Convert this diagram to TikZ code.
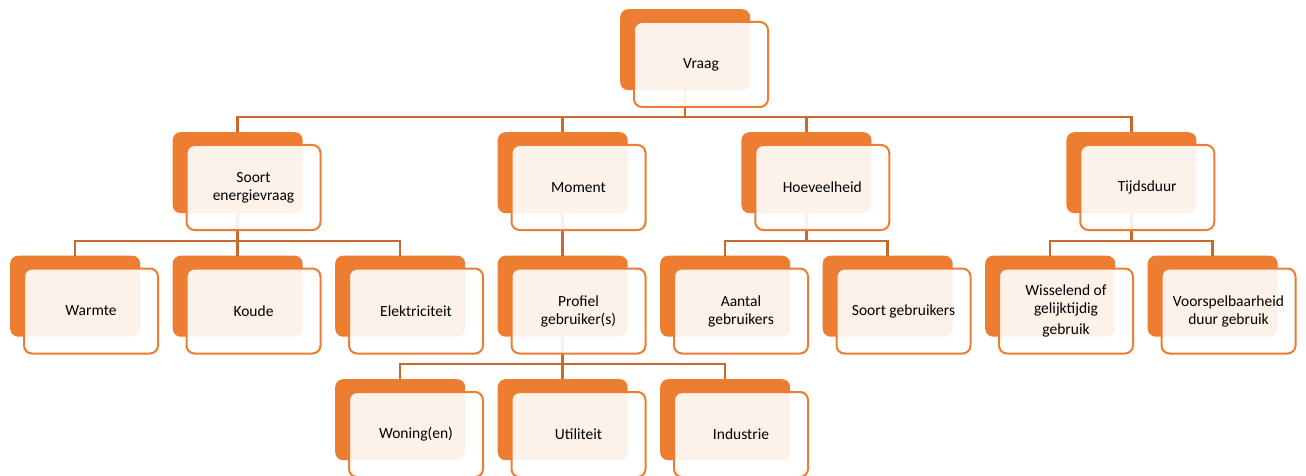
\documentclass[tikz,border=0pt]{standalone}
\usepackage{fontspec}
\setmainfont{Carlito}
\definecolor{oranje}{HTML}{ED7D31}
\definecolor{lijn}{HTML}{C86A2D}
\begin{document}
\begin{tikzpicture}[x=1pt, y=-1pt,
    achter/.style={anchor=north west, fill=oranje, rounded corners=8pt,
      minimum width=130pt, minimum height=81pt, inner sep=0pt},
    voor/.style={anchor=north west, shift={(13,12)}, draw=oranje, line width=2pt,
      fill=white, fill opacity=0.9, text opacity=1, rounded corners=8pt,
      minimum width=134pt, minimum height=85pt, inner sep=2pt, align=center,
      font=\fontsize{15.5}{18}\selectfont},
    verbind/.style={draw=lijn, line width=2.5pt}]
    \useasboundingbox (0,0) rectangle (1306,476);

    % achterste blokken
    \node[achter] (vraag) at (620,9) {};
    \node[achter] (soort) at (172.5,132) {};
    \node[achter] (moment) at (497.5,132) {};
    \node[achter] (hoeveel) at (741.25,132) {};
    \node[achter] (tijd) at (1066.25,132) {};
    \node[achter] (warmte) at (10,255.5) {};
    \node[achter] (koude) at (172.5,255.5) {};
    \node[achter] (elek) at (335,255.5) {};
    \node[achter] (profiel) at (497.5,255.5) {};
    \node[achter] (aantal) at (660,255.5) {};
    \node[achter] (soortgeb) at (822.5,255.5) {};
    \node[achter] (wissel) at (985,255.5) {};
    \node[achter] (voorspel) at (1147.5,255.5) {};
    \node[achter] (woning) at (335,379) {};
    \node[achter] (util) at (497.5,379) {};
    \node[achter] (industrie) at (660,379) {};

    \coordinate (bar1) at (0,117);
    \coordinate (bar2) at (0,241);
    \coordinate (bar3) at (0,364);

    % verbindingen
    \draw[verbind] (vraag.south) -- (vraag.south |- bar1) -| (soort.north);
    \draw[verbind] (vraag.south) -- (vraag.south |- bar1) -| (moment.north);
    \draw[verbind] (vraag.south) -- (vraag.south |- bar1) -| (hoeveel.north);
    \draw[verbind] (vraag.south) -- (vraag.south |- bar1) -| (tijd.north);
    \draw[verbind] (soort.south) -- (soort.south |- bar2) -| (warmte.north);
    \draw[verbind] (soort.south) -- (soort.south |- bar2) -| (koude.north);
    \draw[verbind] (soort.south) -- (soort.south |- bar2) -| (elek.north);
    \draw[verbind] (moment.south) -- (profiel.north);
    \draw[verbind] (hoeveel.south) -- (hoeveel.south |- bar2) -| (aantal.north);
    \draw[verbind] (hoeveel.south) -- (hoeveel.south |- bar2) -| (soortgeb.north);
    \draw[verbind] (tijd.south) -- (tijd.south |- bar2) -| (wissel.north);
    \draw[verbind] (tijd.south) -- (tijd.south |- bar2) -| (voorspel.north);
    \draw[verbind] (profiel.south) -- (profiel.south |- bar3) -| (woning.north);
    \draw[verbind] (profiel.south) -- (profiel.south |- bar3) -| (util.north);
    \draw[verbind] (profiel.south) -- (profiel.south |- bar3) -| (industrie.north);

    % voorste blokken met tekst
    \node[voor] (vraag-t) at (vraag.north west) {Vraag};
    \node[voor] (soort-t) at (soort.north west) {Soort\\energievraag};
    \node[voor] (moment-t) at (moment.north west) {Moment};
    \node[voor] (hoeveel-t) at (hoeveel.north west) {Hoeveelheid};
    \node[voor] (tijd-t) at (tijd.north west) {Tijdsduur};
    \node[voor] (warmte-t) at (warmte.north west) {Warmte};
    \node[voor] (koude-t) at (koude.north west) {Koude};
    \node[voor] (elek-t) at (elek.north west) {Elektriciteit};
    \node[voor] (profiel-t) at (profiel.north west) {Profiel\\gebruiker(s)};
    \node[voor] (aantal-t) at (aantal.north west) {Aantal\\gebruikers};
    \node[voor] (soortgeb-t) at (soortgeb.north west) {Soort gebruikers};
    \node[voor] (wissel-t) at (wissel.north west) {Wisselend of\\gelijktijdig\\[3pt]gebruik};
    \node[voor] (voorspel-t) at (voorspel.north west) {Voorspelbaarheid\\duur gebruik};
    \node[voor] (woning-t) at (woning.north west) {Woning(en)};
    \node[voor] (util-t) at (util.north west) {Utiliteit};
    \node[voor] (industrie-t) at (industrie.north west) {Industrie};
  \end{tikzpicture}
\end{document}
